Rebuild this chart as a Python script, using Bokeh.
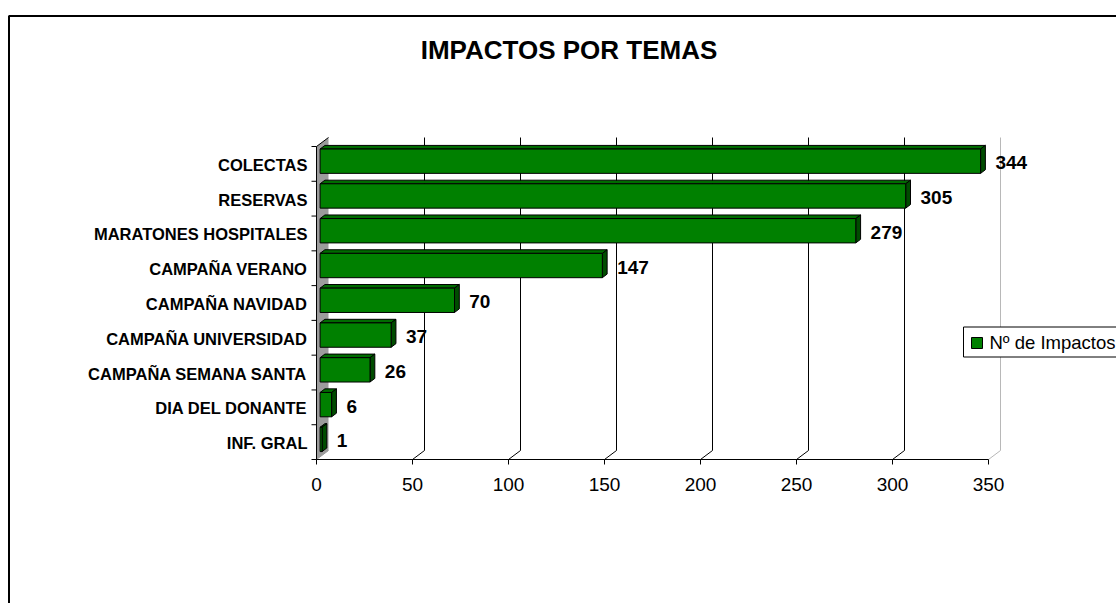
from bokeh.plotting import figure
from bokeh.models import Range1d
from bokeh.core.properties import value
from bokeh.embed import file_html
from bokeh.resources import INLINE

# ---------------- data ----------------
title_text = "IMPACTOS POR TEMAS"
categories = ["COLECTAS", "RESERVAS", "MARATONES HOSPITALES", "CAMPAÑA VERANO",
              "CAMPAÑA NAVIDAD", "CAMPAÑA UNIVERSIDAD", "CAMPAÑA SEMANA SANTA",
              "DIA DEL DONANTE", "INF. GRAL"]
impactos = [344, 305, 279, 147, 70, 37, 26, 6, 1]
series_name = "Nº de Impactos"
x_ticks = [0, 50, 100, 150, 200, 250, 300, 350]

# ---------------- layout / style ----------------
W, H = 1116, 603
PAGE_OFF = 0               # bokeh page has no body margin
X0_PAGE = 316              # page x of value 0
PX_PER_UNIT = 1.92         # px per value unit
AXIS_Y_PAGE = 459          # page y of the value axis
N = len(categories)
TOP_Y_PAGE = 146
BAND_PX = (AXIS_Y_PAGE - TOP_Y_PAGE) / N
FONT = value("Liberation Sans")
GREEN = "#008000"
GREEN_TOP = "#006c00"
GREEN_SIDE = "#004c00"


def xd(page_x):
    return (page_x - X0_PAGE) / PX_PER_UNIT


def yd(page_y):
    return (AXIS_Y_PAGE - page_y) / BAND_PX


def ox(px):
    return px / PX_PER_UNIT


def oy(px_down):
    return -px_down / BAND_PX


XMAX = x_ticks[-1]
p = figure(width=W, height=H, output_backend="svg", toolbar_location=None,
           x_range=Range1d(xd(PAGE_OFF), xd(PAGE_OFF + W)),
           y_range=Range1d(yd(PAGE_OFF + H), yd(PAGE_OFF)),
           min_border=0)
p.axis.visible = False
p.grid.visible = False
p.outline_line_color = None
p.background_fill_color = "white"
p.border_fill_color = "white"

# depth of the 3D box
DDX, DDY = ox(12), oy(-9)
# bars: front face depth and bar thickness
FDX, FDY = ox(3.6), oy(-2.7)
BDX, BDY = ox(4.8), oy(-3.6)
BAR_H = 0.70

# outer chart frame (top and left edges visible)
p.line([xd(8.5), xd(8.5), xd(2000)], [yd(2000), yd(15.5), yd(15.5)],
       line_color="black", line_width=2)

# left wall (gray)
p.patch([0, 0, DDX, DDX], [0, N, N + DDY, DDY], fill_color="#9c9c9c",
        line_color=None)
p.line([0, DDX], [N, N + DDY], line_color="black", line_width=1)
p.line([0, DDX], [0, DDY], line_color="#9a9a9a", line_width=1)

# gridlines on the back wall + floor diagonals
for t in x_ticks[1:]:
    col = "#b8b8b8" if t == XMAX else "black"
    p.line([t, t + DDX, t + DDX], [0, DDY, N + DDY], line_color=col, line_width=1)

# axes lines
p.line([0, XMAX], [0, 0], line_color="black", line_width=1)
p.line([0, 0], [0, N], line_color="black", line_width=1)
# x ticks
p.segment(x0=x_ticks, y0=[0] * len(x_ticks), x1=x_ticks,
          y1=[oy(5)] * len(x_ticks), line_color="black", line_width=1)
# y ticks at band boundaries
bounds = list(range(N + 1))
p.segment(x0=[0] * len(bounds), y0=bounds, x1=[ox(-5)] * len(bounds), y1=bounds,
          line_color="black", line_width=1)

# bars
yc = [N - i - 0.5 for i in range(N)]
L = [FDX] * N
R = [v + FDX for v in impactos]
B = [c - BAR_H / 2 + FDY for c in yc]
T = [c + BAR_H / 2 + FDY for c in yc]
p.patches(xs=[[l, r, r + BDX, l + BDX] for l, r in zip(L, R)],
          ys=[[t, t, t + BDY, t + BDY] for t in T],
          fill_color=GREEN_TOP, line_color="black", line_width=1)
p.patches(xs=[[r, r + BDX, r + BDX, r] for r in R],
          ys=[[b, b + BDY, t + BDY, t] for b, t in zip(B, T)],
          fill_color=GREEN_SIDE, line_color="black", line_width=1)
p.quad(left=L, right=R, bottom=B, top=T, fill_color=GREEN,
       line_color="black", line_width=1)

# value labels
p.text(x=[r + BDX + ox(10) for r in R], y=[c + oy(1.5) + FDY for c in yc],
       text=[str(v) for v in impactos], text_font=FONT, text_font_style="bold",
       text_font_size="19px", text_align="left", text_baseline="middle",
       text_color="black")

# category labels
p.text(x=[xd(307)] * N, y=[c + oy(1) for c in yc], text=categories,
       text_font=FONT, text_font_style="bold", text_font_size="16.5px",
       text_align="right", text_baseline="middle", text_color="black")

# x tick labels
p.text(x=x_ticks, y=[yd(483.5)] * len(x_ticks), text=[str(t) for t in x_ticks],
       text_font=FONT, text_font_size="19px", text_align="center",
       text_baseline="middle", text_color="black")

# title
p.text(x=[xd(568.5)], y=[yd(49.5)], text=[title_text], text_font=FONT,
       text_font_style="bold", text_font_size="26px", text_align="center",
       text_baseline="middle", text_color="black")

# legend (manual, clipped at the right edge like the reference)
p.quad(left=[xd(963)], right=[xd(1140)], top=[yd(326.5)], bottom=[yd(356.5)],
       fill_color="white", line_color="black", line_width=1)
p.quad(left=[xd(971)], right=[xd(982)], top=[yd(337)], bottom=[yd(348)],
       fill_color=GREEN, line_color="black", line_width=1)
p.text(x=[xd(989)], y=[yd(342)], text=[series_name], text_font=FONT,
       text_font_size="18.5px", text_align="left", text_baseline="middle",
       text_color="black")

open("out.html", "w").write(file_html(p, INLINE))
